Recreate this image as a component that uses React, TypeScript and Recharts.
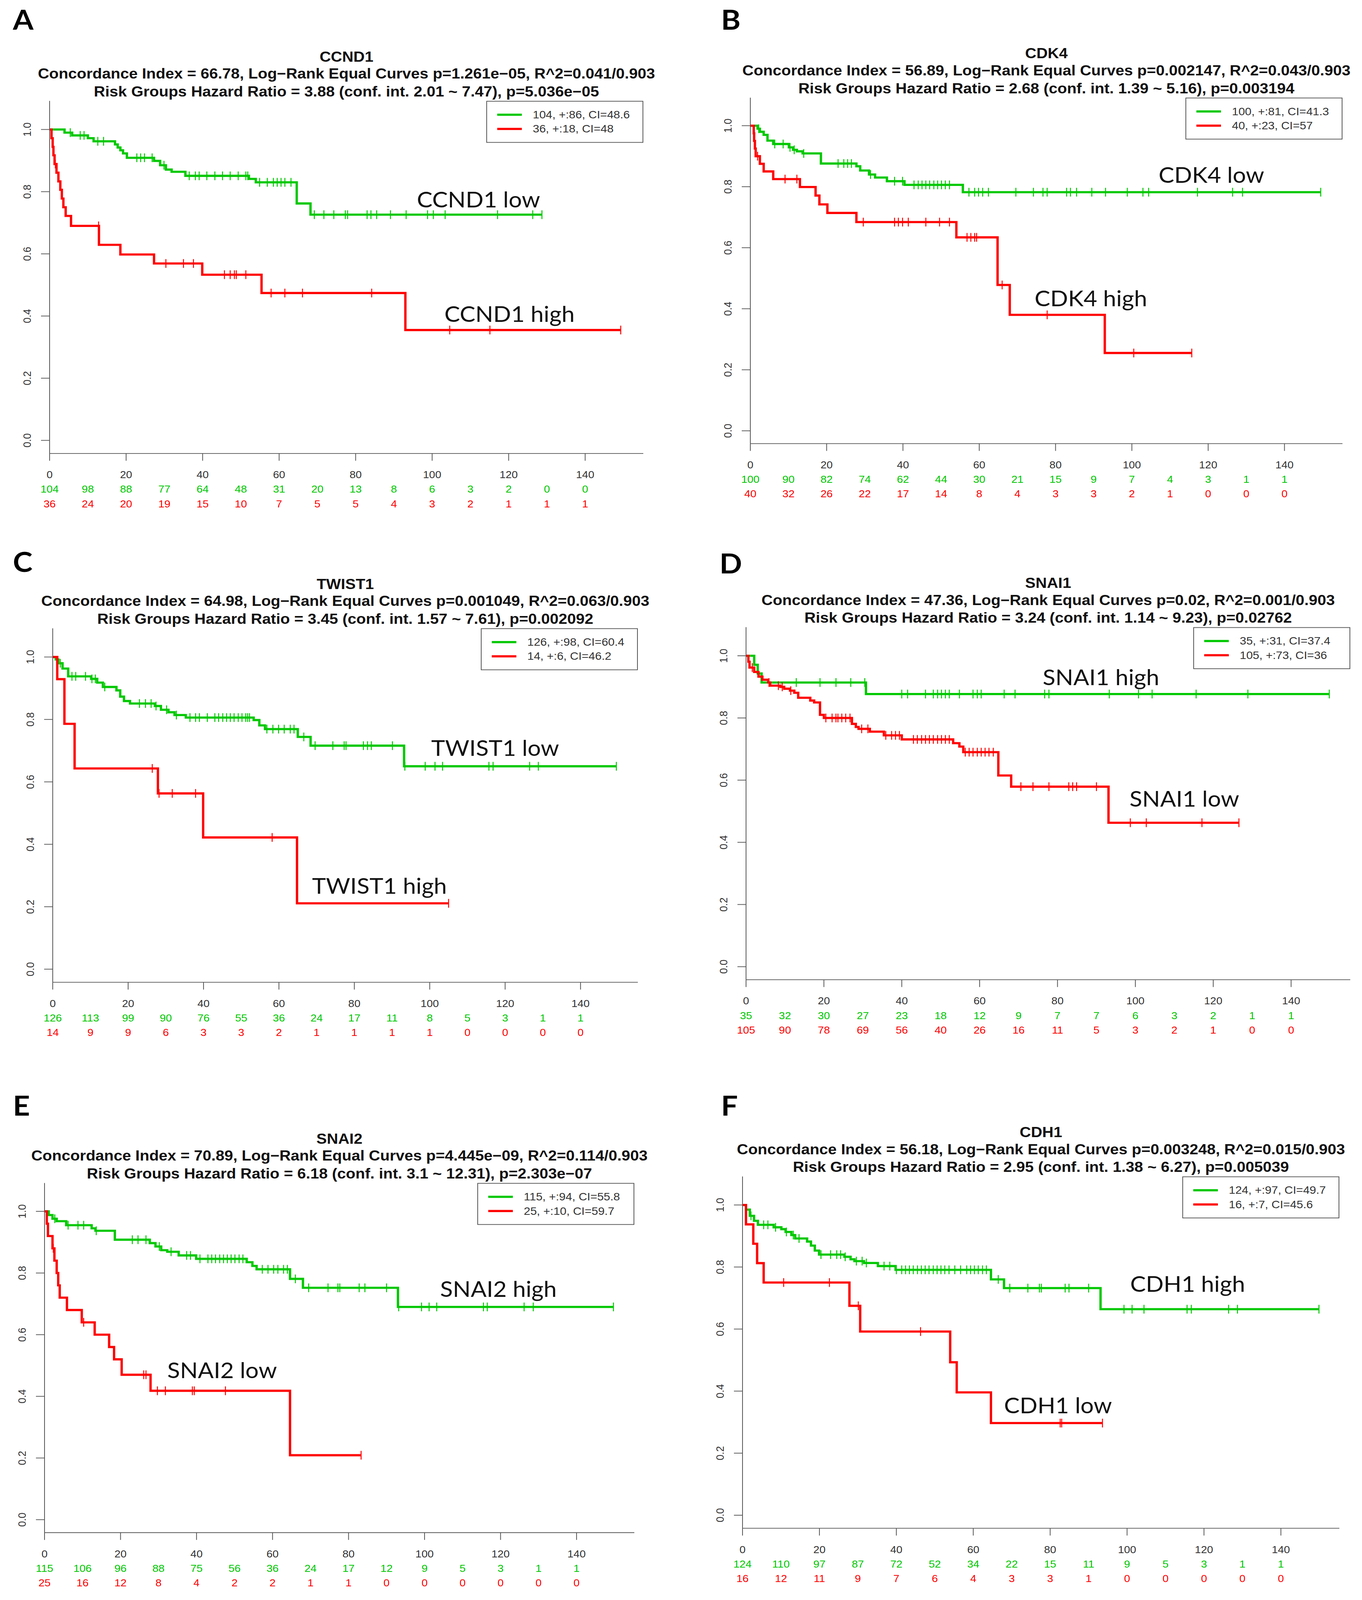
import React from 'react'
import { LineChart, Line, XAxis, YAxis, Legend, ReferenceDot } from 'recharts'

type Step = [number, number]

// time points for the at-risk table and survival ticks
const xTicks = [0, 10, 20, 30, 40, 50, 60, 70, 80, 90, 100, 110, 120, 130, 140]
const yTicks = [0, 0.2, 0.4, 0.6, 0.8, 1]

// ---- A: CCND1
const ccnd1Title = [
  'CCND1',
  'Concordance Index = 66.78, Log\u2212Rank Equal Curves p=1.261e\u221205, R^2=0.041/0.903',
  'Risk Groups Hazard Ratio = 3.88 (conf. int. 2.01 ~ 7.47), p=5.036e\u221205',
]
const ccnd1Legend = ['104, +:86, CI=48.6', '36, +:18, CI=48']
const ccnd1Notes = ['CCND1 low', 'CCND1 high']
const ccnd1GreenSteps: Step[] = [
  [3.9, 0.99], [5.9, 0.981], [10, 0.972], [11.5, 0.962], [17.1, 0.952], [17.8, 0.942],
  [18.5, 0.933], [19.2, 0.923], [20.2, 0.909], [27.3, 0.899], [28.9, 0.885], [30.4, 0.871],
  [31.9, 0.864], [35.5, 0.851], [52.1, 0.841], [53.9, 0.83], [64.6, 0.762], [68.2, 0.726],
]
const ccnd1GreenCensor = [
  5.4, 8.0, 9.0, 12.6, 14.1, 22.8, 23.8, 24.8, 26.8, 29.9, 36.5, 38.1, 39.1, 41.1, 43.2, 45.2,
  47.2, 49.3, 51.3, 51.8, 54.9, 56.9, 58.5, 59.5, 60.5, 61.5, 63.1, 69.2, 71.7, 74.3, 77.3, 77.9,
  83.0, 84.0, 85.5, 89.1, 93.2, 98.8, 100.3, 103.4, 117.1, 126.3, 128.7,
]
const ccnd1RedSteps: Step[] = [
  [0.5, 0.972], [0.8, 0.944], [1.0, 0.917], [1.3, 0.889], [1.8, 0.861], [2.3, 0.833],
  [2.8, 0.806], [3.2, 0.778], [3.6, 0.75], [4.2, 0.722], [5.6, 0.69], [12.9, 0.629],
  [18.5, 0.598], [27.3, 0.569], [39.9, 0.533], [55.4, 0.474], [93.0, 0.355],
]
const ccnd1RedCensor = [
  1.5, 12.8, 30.4, 35.0, 37.6, 45.7, 47.2, 48.3, 48.8, 51.3, 57.9, 61.5, 66.1, 84.2, 104.6, 115.1, 149.3,
]
const ccnd1RiskGreen = [104, 98, 88, 77, 64, 48, 31, 20, 13, 8, 6, 3, 2, 0, 0]
const ccnd1RiskRed = [36, 24, 20, 19, 15, 10, 7, 5, 5, 4, 3, 2, 1, 1, 1]

// ---- B: CDK4
const cdk4Title = [
  'CDK4',
  'Concordance Index = 56.89, Log\u2212Rank Equal Curves p=0.002147, R^2=0.043/0.903',
  'Risk Groups Hazard Ratio = 2.68 (conf. int. 1.39 ~ 5.16), p=0.003194',
]
const cdk4Legend = ['100, +:81, CI=41.3', '40, +:23, CI=57']
const cdk4Notes = ['CDK4 low', 'CDK4 high']
const cdk4GreenSteps: Step[] = [
  [1.9, 0.99], [2.5, 0.98], [3.5, 0.97], [4.5, 0.951], [6.0, 0.94], [10.1, 0.929], [11.2, 0.921],
  [12.2, 0.916], [13.7, 0.909], [18.5, 0.876], [27.8, 0.867], [28.8, 0.853], [31.1, 0.84],
  [32.7, 0.83], [35.8, 0.818], [40.4, 0.806], [55.7, 0.782],
]
const cdk4GreenCensor = [
  2.2, 6.4, 8.6, 10.4, 11.5, 14.0, 23.0, 24.5, 25.5, 26.5, 31.5, 37.8, 39.9, 42.9, 44.0, 45.0,
  46.0, 47.0, 48.1, 49.1, 50.1, 51.1, 52.2, 57.3, 58.8, 59.8, 60.9, 62.4, 69.6, 74.2, 76.7, 77.8,
  82.9, 83.9, 85.5, 89.5, 93.1, 98.8, 102.9, 104.4, 117.2, 126.4, 129.0, 149.5,
]
const cdk4RedSteps: Step[] = [
  [0.9, 0.975], [1.0, 0.95], [1.2, 0.925], [1.4, 0.9], [2.5, 0.875], [3.5, 0.85], [6.0, 0.825],
  [13.0, 0.799], [17.1, 0.771], [18.1, 0.742], [20.2, 0.714], [27.8, 0.684], [54.0, 0.634],
  [64.8, 0.478], [68.0, 0.38], [92.9, 0.255],
]
const cdk4RedCensor = [
  1.9, 9.1, 12.2, 29.6, 37.8, 38.8, 39.9, 41.4, 46.0, 49.6, 52.2, 56.8, 57.8, 58.8, 59.3, 66.0,
  77.8, 100.5, 115.7,
]
const cdk4RiskGreen = [100, 90, 82, 74, 62, 44, 30, 21, 15, 9, 7, 4, 3, 1, 1]
const cdk4RiskRed = [40, 32, 26, 22, 17, 14, 8, 4, 3, 3, 2, 1, 0, 0, 0]

// ---- C: TWIST1
const twist1Title = [
  'TWIST1',
  'Concordance Index = 64.98, Log\u2212Rank Equal Curves p=0.001049, R^2=0.063/0.903',
  'Risk Groups Hazard Ratio = 3.45 (conf. int. 1.57 ~ 7.61), p=0.002092',
]
const twist1Legend = ['126, +:98, CI=60.4', '14, +:6, CI=46.2']
const twist1Notes = ['TWIST1 low', 'TWIST1 high']
const twist1GreenSteps: Step[] = [
  [0.8, 0.992], [1.5, 0.98], [2.6, 0.963], [4.1, 0.938], [10.2, 0.93], [11.8, 0.918],
  [13.3, 0.904], [16.9, 0.893], [17.9, 0.873], [18.9, 0.859], [20.5, 0.851], [27.1, 0.843],
  [28.7, 0.831], [30.7, 0.823], [32.3, 0.814], [35.3, 0.806], [53.3, 0.798], [54.8, 0.781],
  [56.3, 0.769], [65.0, 0.744], [68.4, 0.716], [93.2, 0.65],
]
const twist1GreenCensor = [
  2.0, 5.1, 6.1, 8.7, 10.4, 11.3, 13.8, 23.0, 24.6, 26.1, 27.4, 30.2, 32.8, 36.4, 37.9, 38.9,
  41.0, 43.0, 44.0, 45.1, 46.1, 47.1, 48.1, 49.2, 50.2, 51.2, 51.7, 52.2, 56.8, 58.4, 59.9, 61.4,
  63.0, 64.0, 66.6, 69.6, 74.3, 77.3, 77.8, 82.4, 83.5, 84.5, 90.1, 93.4, 98.8, 101.4, 103.4,
  115.7, 116.8, 126.5, 128.8, 149.5,
]
const twist1RedSteps: Step[] = [
  [1.2, 0.929], [3.1, 0.786], [5.8, 0.643], [27.9, 0.563], [39.9, 0.422], [64.8, 0.211],
]
const twist1RedCensor = [26.4, 28.2, 31.7, 37.9, 58.2, 105.0]
const twist1RiskGreen = [126, 113, 99, 90, 76, 55, 36, 24, 17, 11, 8, 5, 3, 1, 1]
const twist1RiskRed = [14, 9, 9, 6, 3, 3, 2, 1, 1, 1, 1, 0, 0, 0, 0]

// ---- D: SNAI1
const snai1Title = [
  'SNAI1',
  'Concordance Index = 47.36, Log\u2212Rank Equal Curves p=0.02, R^2=0.001/0.903',
  'Risk Groups Hazard Ratio = 3.24 (conf. int. 1.14 ~ 9.23), p=0.02762',
]
const snai1Legend = ['35, +:31, CI=37.4', '105, +:73, CI=36']
const snai1Notes = ['SNAI1 high', 'SNAI1 low']
const snai1GreenSteps: Step[] = [[2.1, 0.971], [3.0, 0.943], [4.0, 0.914], [30.8, 0.877]]
const snai1GreenCensor = [
  12.9, 19.0, 23.1, 26.9, 30.5, 40.0, 41.5, 46.1, 48.1, 49.2, 50.2, 51.2, 52.2, 54.8, 58.3, 59.4,
  60.4, 66.3, 69.1, 76.7, 77.8, 93.3, 100.8, 104.3, 115.6, 128.9, 149.8,
]
const snai1RedSteps: Step[] = [
  [0.6, 0.981], [0.9, 0.962], [2.1, 0.948], [3.2, 0.933], [4.2, 0.923], [5.7, 0.914], [6.2, 0.904],
  [8.8, 0.9], [9.8, 0.894], [11.3, 0.888], [12.4, 0.881], [13.4, 0.865], [16.5, 0.856],
  [17.5, 0.85], [19.0, 0.81], [20.0, 0.8], [27.2, 0.781], [28.2, 0.771], [28.9, 0.765],
  [31.8, 0.756], [35.4, 0.744], [40.0, 0.731], [53.2, 0.719], [54.8, 0.708], [55.8, 0.69],
  [64.8, 0.615], [68.1, 0.579], [93.1, 0.463],
]
const snai1RedCensor = [
  1.6, 5.9, 8.3, 9.3, 11.5, 20.5, 22.1, 23.1, 23.6, 24.6, 25.6, 26.7, 29.7, 31.3, 35.9, 37.4,
  38.4, 39.4, 43.0, 44.0, 45.1, 46.1, 47.1, 48.1, 49.2, 50.2, 51.2, 52.2, 56.3, 57.3, 58.3, 59.4,
  60.4, 61.4, 62.4, 63.5, 70.6, 73.7, 77.8, 82.9, 83.9, 84.9, 90.0, 98.7, 102.8, 117.1, 126.6,
]
const snai1RiskGreen = [35, 32, 30, 27, 23, 18, 12, 9, 7, 7, 6, 3, 2, 1, 1]
const snai1RiskRed = [105, 90, 78, 69, 56, 40, 26, 16, 11, 5, 3, 2, 1, 0, 0]

// ---- E: SNAI2
const snai2Title = [
  'SNAI2',
  'Concordance Index = 70.89, Log\u2212Rank Equal Curves p=4.445e\u221209, R^2=0.114/0.903',
  'Risk Groups Hazard Ratio = 6.18 (conf. int. 3.1 ~ 12.31), p=2.303e\u221207',
]
const snai2Legend = ['115, +:94, CI=55.8', '25, +:10, CI=59.7']
const snai2Notes = ['SNAI2 high', 'SNAI2 low']
const snai2GreenSteps: Step[] = [
  [1.1, 0.988], [2.1, 0.976], [3.2, 0.968], [5.7, 0.955], [12.4, 0.945], [13.4, 0.937],
  [18.5, 0.908], [27.7, 0.897], [29.2, 0.886], [30.7, 0.874], [32.3, 0.869], [35.3, 0.857],
  [39.9, 0.846], [53.2, 0.835], [54.7, 0.823], [55.8, 0.812], [64.6, 0.781], [68.0, 0.752],
  [93.0, 0.69],
]
const snai2GreenCensor = [
  2.7, 6.2, 8.8, 10.3, 13.6, 23.1, 24.6, 26.7, 30.2, 33.3, 37.4, 38.4, 40.9, 43.0, 44.0, 45.0,
  46.1, 47.1, 48.1, 49.1, 50.1, 51.2, 52.2, 57.3, 58.8, 60.3, 61.4, 62.9, 63.9, 66.0, 69.5, 74.6,
  77.2, 77.7, 82.8, 84.3, 90.0, 93.2, 99.2, 101.2, 103.2, 115.5, 116.5, 126.2, 128.6, 149.7,
]
const snai2RedSteps: Step[] = [
  [0.6, 0.96], [0.9, 0.92], [2.1, 0.88], [2.6, 0.84], [3.2, 0.8], [3.6, 0.76], [4.0, 0.72],
  [5.9, 0.68], [9.8, 0.64], [13.2, 0.6], [17.0, 0.56], [18.3, 0.52], [20.3, 0.47], [27.9, 0.418],
  [64.6, 0.209],
]
const snai2RedCensor = [2.3, 10.3, 26.1, 26.7, 29.7, 31.8, 38.9, 39.4, 47.6, 83.3]
const snai2RiskGreen = [115, 106, 96, 88, 75, 56, 36, 24, 17, 12, 9, 5, 3, 1, 1]
const snai2RiskRed = [25, 16, 12, 8, 4, 2, 2, 1, 1, 0, 0, 0, 0, 0, 0]

// ---- F: CDH1
const cdh1Title = [
  'CDH1',
  'Concordance Index = 56.18, Log\u2212Rank Equal Curves p=0.003248, R^2=0.015/0.903',
  'Risk Groups Hazard Ratio = 2.95 (conf. int. 1.38 ~ 6.27), p=0.005039',
]
const cdh1Legend = ['124, +:97, CI=49.7', '16, +:7, CI=45.6']
const cdh1Notes = ['CDH1 high', 'CDH1 low']
const cdh1GreenSteps: Step[] = [
  [0.9, 0.985], [1.9, 0.965], [3.0, 0.949], [4.0, 0.936], [8.1, 0.928], [10.1, 0.922],
  [11.2, 0.913], [12.7, 0.903], [13.7, 0.892], [16.8, 0.882], [17.8, 0.869], [18.8, 0.853],
  [19.9, 0.84], [26.5, 0.833], [28.1, 0.825], [29.1, 0.819], [31.6, 0.813], [35.2, 0.803],
  [39.8, 0.791], [64.6, 0.76], [68.0, 0.732], [93.1, 0.664],
]
const cdh1GreenCensor = [
  2.2, 5.5, 6.6, 8.6, 11.4, 13.2, 14.7, 20.4, 22.9, 24.5, 25.5, 26.7, 29.6, 31.1, 32.2, 36.8,
  38.3, 40.0, 41.4, 42.4, 43.4, 44.4, 45.5, 46.5, 47.5, 48.5, 49.6, 50.6, 51.6, 52.6, 53.7, 55.2,
  56.7, 58.3, 59.3, 60.3, 61.3, 62.4, 63.4, 66.5, 69.5, 74.2, 77.2, 77.7, 83.9, 84.9, 90.0, 99.2,
  101.3, 104.4, 115.6, 116.7, 126.4, 128.7, 149.9,
]
const cdh1RedSteps: Step[] = [
  [0.9, 0.9375], [2.8, 0.875], [3.8, 0.8125], [5.5, 0.75], [27.8, 0.675], [30.6, 0.592],
  [54.0, 0.493], [55.7, 0.396], [64.6, 0.297],
]
const cdh1RedCensor = [10.7, 22.6, 30.1, 46.3, 82.6, 83.0, 93.6]
const cdh1RiskGreen = [124, 110, 97, 87, 72, 52, 34, 22, 15, 11, 9, 5, 3, 1, 1]
const cdh1RiskRed = [16, 12, 11, 9, 7, 6, 4, 3, 3, 1, 0, 0, 0, 0, 0]

const GREEN = '#00c800'
const RED = '#ff0000'
const AXIS = '#555'
const TICK = '#333'
const X_DOMAIN: [number, number] = [0, 155.2]
const Y_DOMAIN: [number, number] = [-0.042, 1.092]

const PAGE_W = 3487
const PAGE_H = 4393

// chart margins around the plot box
const ML = 120
const MT = 10
const MR = 20
const XH = 170

const panels = [
  {
    letter: 'A', letterPos: [33, 27], box: { x: 127, y: 277, w: 1520, h: 968 },
    title: ccnd1Title, legend: ccnd1Legend, notes: ccnd1Notes, notePos: [[96.0, 0.776], [103.2, 0.408]],
    greenSteps: ccnd1GreenSteps, greenCensor: ccnd1GreenCensor, redSteps: ccnd1RedSteps, redCensor: ccnd1RedCensor,
    riskGreen: ccnd1RiskGreen, riskRed: ccnd1RiskRed,
  },
  {
    letter: 'B', letterPos: [1846, 27], box: { x: 1921, y: 268, w: 1516, h: 950 },
    title: cdk4Title, legend: cdk4Legend, notes: cdk4Notes, notePos: [[107.0, 0.84], [74.5, 0.436]],
    greenSteps: cdk4GreenSteps, greenCensor: cdk4GreenCensor, redSteps: cdk4RedSteps, redCensor: cdk4RedCensor,
    riskGreen: cdk4RiskGreen, riskRed: cdk4RiskRed,
  },
  {
    letter: 'C', letterPos: [33, 1516], box: { x: 135, y: 1725, w: 1498, h: 972 },
    title: twist1Title, legend: twist1Legend, notes: twist1Notes, notePos: [[100.4, 0.71], [68.8, 0.269]],
    greenSteps: twist1GreenSteps, greenCensor: twist1GreenCensor, redSteps: twist1RedSteps, redCensor: twist1RedCensor,
    riskGreen: twist1RiskGreen, riskRed: twist1RiskRed,
  },
  {
    letter: 'D', letterPos: [1842, 1520], box: { x: 1910, y: 1722, w: 1547, h: 968 },
    title: snai1Title, legend: snai1Legend, notes: snai1Notes, notePos: [[76.2, 0.933], [98.5, 0.542]],
    greenSteps: snai1GreenSteps, greenCensor: snai1GreenCensor, redSteps: snai1RedSteps, redCensor: snai1RedCensor,
    riskGreen: snai1RiskGreen, riskRed: snai1RiskRed,
  },
  {
    letter: 'E', letterPos: [33, 3009], box: { x: 114, y: 3248, w: 1510, h: 960 },
    title: snai2Title, legend: snai2Legend, notes: snai2Notes, notePos: [[104.1, 0.75], [32.3, 0.486]],
    greenSteps: snai2GreenSteps, greenCensor: snai2GreenCensor, redSteps: snai2RedSteps, redCensor: snai2RedCensor,
    riskGreen: snai2RiskGreen, riskRed: snai2RiskRed,
  },
  {
    letter: 'F', letterPos: [1846, 3009], box: { x: 1901, y: 3230, w: 1528, h: 966 },
    title: cdh1Title, legend: cdh1Legend, notes: cdh1Notes, notePos: [[100.8, 0.747], [68.0, 0.356]],
    greenSteps: cdh1GreenSteps, greenCensor: cdh1GreenCensor, redSteps: cdh1RedSteps, redCensor: cdh1RedCensor,
    riskGreen: cdh1RiskGreen, riskRed: cdh1RiskRed,
  },
]

// Kaplan-Meier points: start, event steps, censored times on the current level
function buildCurve(steps: Step[], censor: number[]) {
  const level = (t: number) => {
    let s = 1
    for (const [st, sv] of steps) if (st <= t) s = sv
    return s
  }
  const pts = [{ t: 0, s: 1, c: false }]
  steps.forEach(([t, s]) => pts.push({ t, s, c: false }))
  censor.forEach((t) => pts.push({ t, s: level(t), c: true }))
  return pts.sort((a, b) => a.t - b.t || Number(a.c) - Number(b.c))
}

const censorDot = (color: string) => (props: any) => {
  const { cx, cy, payload, index } = props
  if (!payload || !payload.c) return <g key={'n' + index} />
  return <line key={'c' + index} x1={cx} x2={cx} y1={cy - 12} y2={cy + 12} stroke={color} strokeWidth={2.5} />
}

const yTick = (props: any) => {
  const { x, y, payload } = props
  const lx = x - 58
  return (
    <g>
      <line x1={x} x2={x - 22} y1={y} y2={y} stroke={AXIS} strokeWidth={2} />
      <text x={lx} y={y} transform={`rotate(-90 ${lx} ${y})`} textAnchor="middle" dominantBaseline="central"
        fontFamily="Liberation Sans" fontSize={28} fill={TICK}>
        {Number(payload.value).toFixed(1)}
      </text>
    </g>
  )
}

const xTick = (riskGreen: number[], riskRed: number[]) => (props: any) => {
  const { x, y, payload } = props
  const v = payload.value
  const i = xTicks.indexOf(v)
  const major = v % 20 === 0
  return (
    <g fontFamily="Liberation Sans" fontSize={28} textAnchor="middle" dominantBaseline="central">
      {major && <line x1={x} x2={x} y1={y} y2={y + 20} stroke={AXIS} strokeWidth={2} />}
      {major && <text x={x} y={y + 58} fill={TICK}>{v}</text>}
      <text x={x} y={y + 98} fill={GREEN}>{riskGreen[i]}</text>
      <text x={x} y={y + 138} fill={RED}>{riskRed[i]}</text>
    </g>
  )
}

// legend keeps the series order (green first), not alphabetical order
const LegendBox = ({ payload, order }: { payload?: any[]; order: string[] }) => {
  const items = [...(payload || [])].sort((a, b) => order.indexOf(a.value) - order.indexOf(b.value))
  return (
    <div style={{
      width: 402, height: 115, boxSizing: 'border-box', border: `2px solid ${AXIS}`, background: '#fff',
      position: 'relative', fontFamily: 'Liberation Sans', fontSize: 30, color: '#333',
    }}>
      {items.map((e: any, i: number) => (
        <div key={i} style={{ position: 'absolute', left: 26, top: 36 + i * 39 - 18, height: 36, display: 'flex', alignItems: 'center', whiteSpace: 'nowrap' }}>
          <span style={{ display: 'inline-block', width: 63, height: 6, background: e.color, marginRight: 28 }} />
          <span>{e.value}</span>
        </div>
      ))}
    </div>
  )
}

function KMPanel({ p }: { p: any }) {
  const green = buildCurve(p.greenSteps, p.greenCensor)
  const red = buildCurve(p.redSteps, p.redCensor)
  return (
    <div style={{ position: 'absolute', left: p.box.x - ML, top: p.box.y - MT }}>
      <LineChart width={p.box.w + ML + MR} height={p.box.h + MT + XH} margin={{ top: MT, right: MR, bottom: 0, left: 0 }}>
        <XAxis dataKey="t" type="number" domain={X_DOMAIN} ticks={xTicks} interval={0} allowDataOverflow
          height={XH} tickSize={0} tickMargin={0} tickLine={false} axisLine={{ stroke: AXIS, strokeWidth: 2 }}
          tick={xTick(p.riskGreen, p.riskRed)} />
        <XAxis xAxisId="top" orientation="top" type="number" domain={X_DOMAIN} allowDataOverflow height={0}
          tick={false} tickLine={false} axisLine={{ stroke: AXIS, strokeWidth: 2 }} />
        <YAxis type="number" domain={Y_DOMAIN} ticks={yTicks} interval={0} allowDataOverflow width={ML}
          tickSize={0} tickMargin={0} tickLine={false} axisLine={{ stroke: AXIS, strokeWidth: 2 }} tick={yTick} />
        <YAxis yAxisId="right" orientation="right" type="number" domain={Y_DOMAIN} allowDataOverflow width={0}
          tick={false} tickLine={false} axisLine={{ stroke: AXIS, strokeWidth: 2 }} />
        <Line data={green} dataKey="s" name={p.legend[0]} type="stepAfter" stroke={GREEN} strokeWidth={6}
          dot={censorDot(GREEN)} activeDot={false} isAnimationActive={false} />
        <Line data={red} dataKey="s" name={p.legend[1]} type="stepAfter" stroke={RED} strokeWidth={6}
          dot={censorDot(RED)} activeDot={false} isAnimationActive={false} />
        {p.notes.map((n: string, i: number) => (
          <ReferenceDot key={n} x={p.notePos[i][0]} y={p.notePos[i][1]} r={0} ifOverflow="visible"
            shape={(s: any) => (
              <text x={s.cx} y={s.cy} dominantBaseline="central" fontFamily="Lato" fontSize={60} fill="#111">{n}</text>
            )} />
        ))}
        <Legend layout="vertical" align="center" verticalAlign="middle"
          wrapperStyle={{ top: MT, right: MR, left: 'auto', width: 402 }}
          content={(props: any) => <LegendBox payload={props.payload} order={p.legend} />} />
      </LineChart>
    </div>
  )
}

export default function App() {
  // the photographed viewport can be shorter than the page: fit the whole figure into it
  const vw = typeof window !== 'undefined' ? window.innerWidth : PAGE_W
  const vh = typeof window !== 'undefined' ? window.innerHeight : PAGE_H
  const sx = Math.min(1, vw / PAGE_W)
  const sy = Math.min(1, vh / PAGE_H)
  return (
    <div style={{ width: Math.floor(PAGE_W * sx), height: Math.floor(PAGE_H * sy), overflow: 'hidden', background: '#fff' }}>
      <style>{'html,body{margin:0;background:#fff;overflow:hidden}'}</style>
      <div style={{
        position: 'relative', width: PAGE_W, height: PAGE_H, background: '#fff',
        transform: `scale(${sx}, ${sy})`, transformOrigin: '0 0',
      }}>
        <svg width={PAGE_W} height={PAGE_H} style={{ position: 'absolute', left: 0, top: 0 }}>
          {panels.map((p) => {
            const cx = p.box.x + p.box.w / 2
            return (
              <g key={p.letter}>
                <text x={p.letterPos[0]} y={p.letterPos[1] + 54} fontFamily="Lato" fontWeight="bold" fontSize={76} fill="#000">{p.letter}</text>
                {p.title.map((t, i) => (
                  <text key={i} x={cx} y={p.box.y + [-122, -75, -26][i]} textAnchor="middle" dominantBaseline="central"
                    fontFamily="Liberation Sans" fontWeight="bold" fontSize={40} fill="#111">{t}</text>
                ))}
              </g>
            )
          })}
        </svg>
        {panels.map((p) => <KMPanel key={p.letter} p={p} />)}
      </div>
    </div>
  )
}
